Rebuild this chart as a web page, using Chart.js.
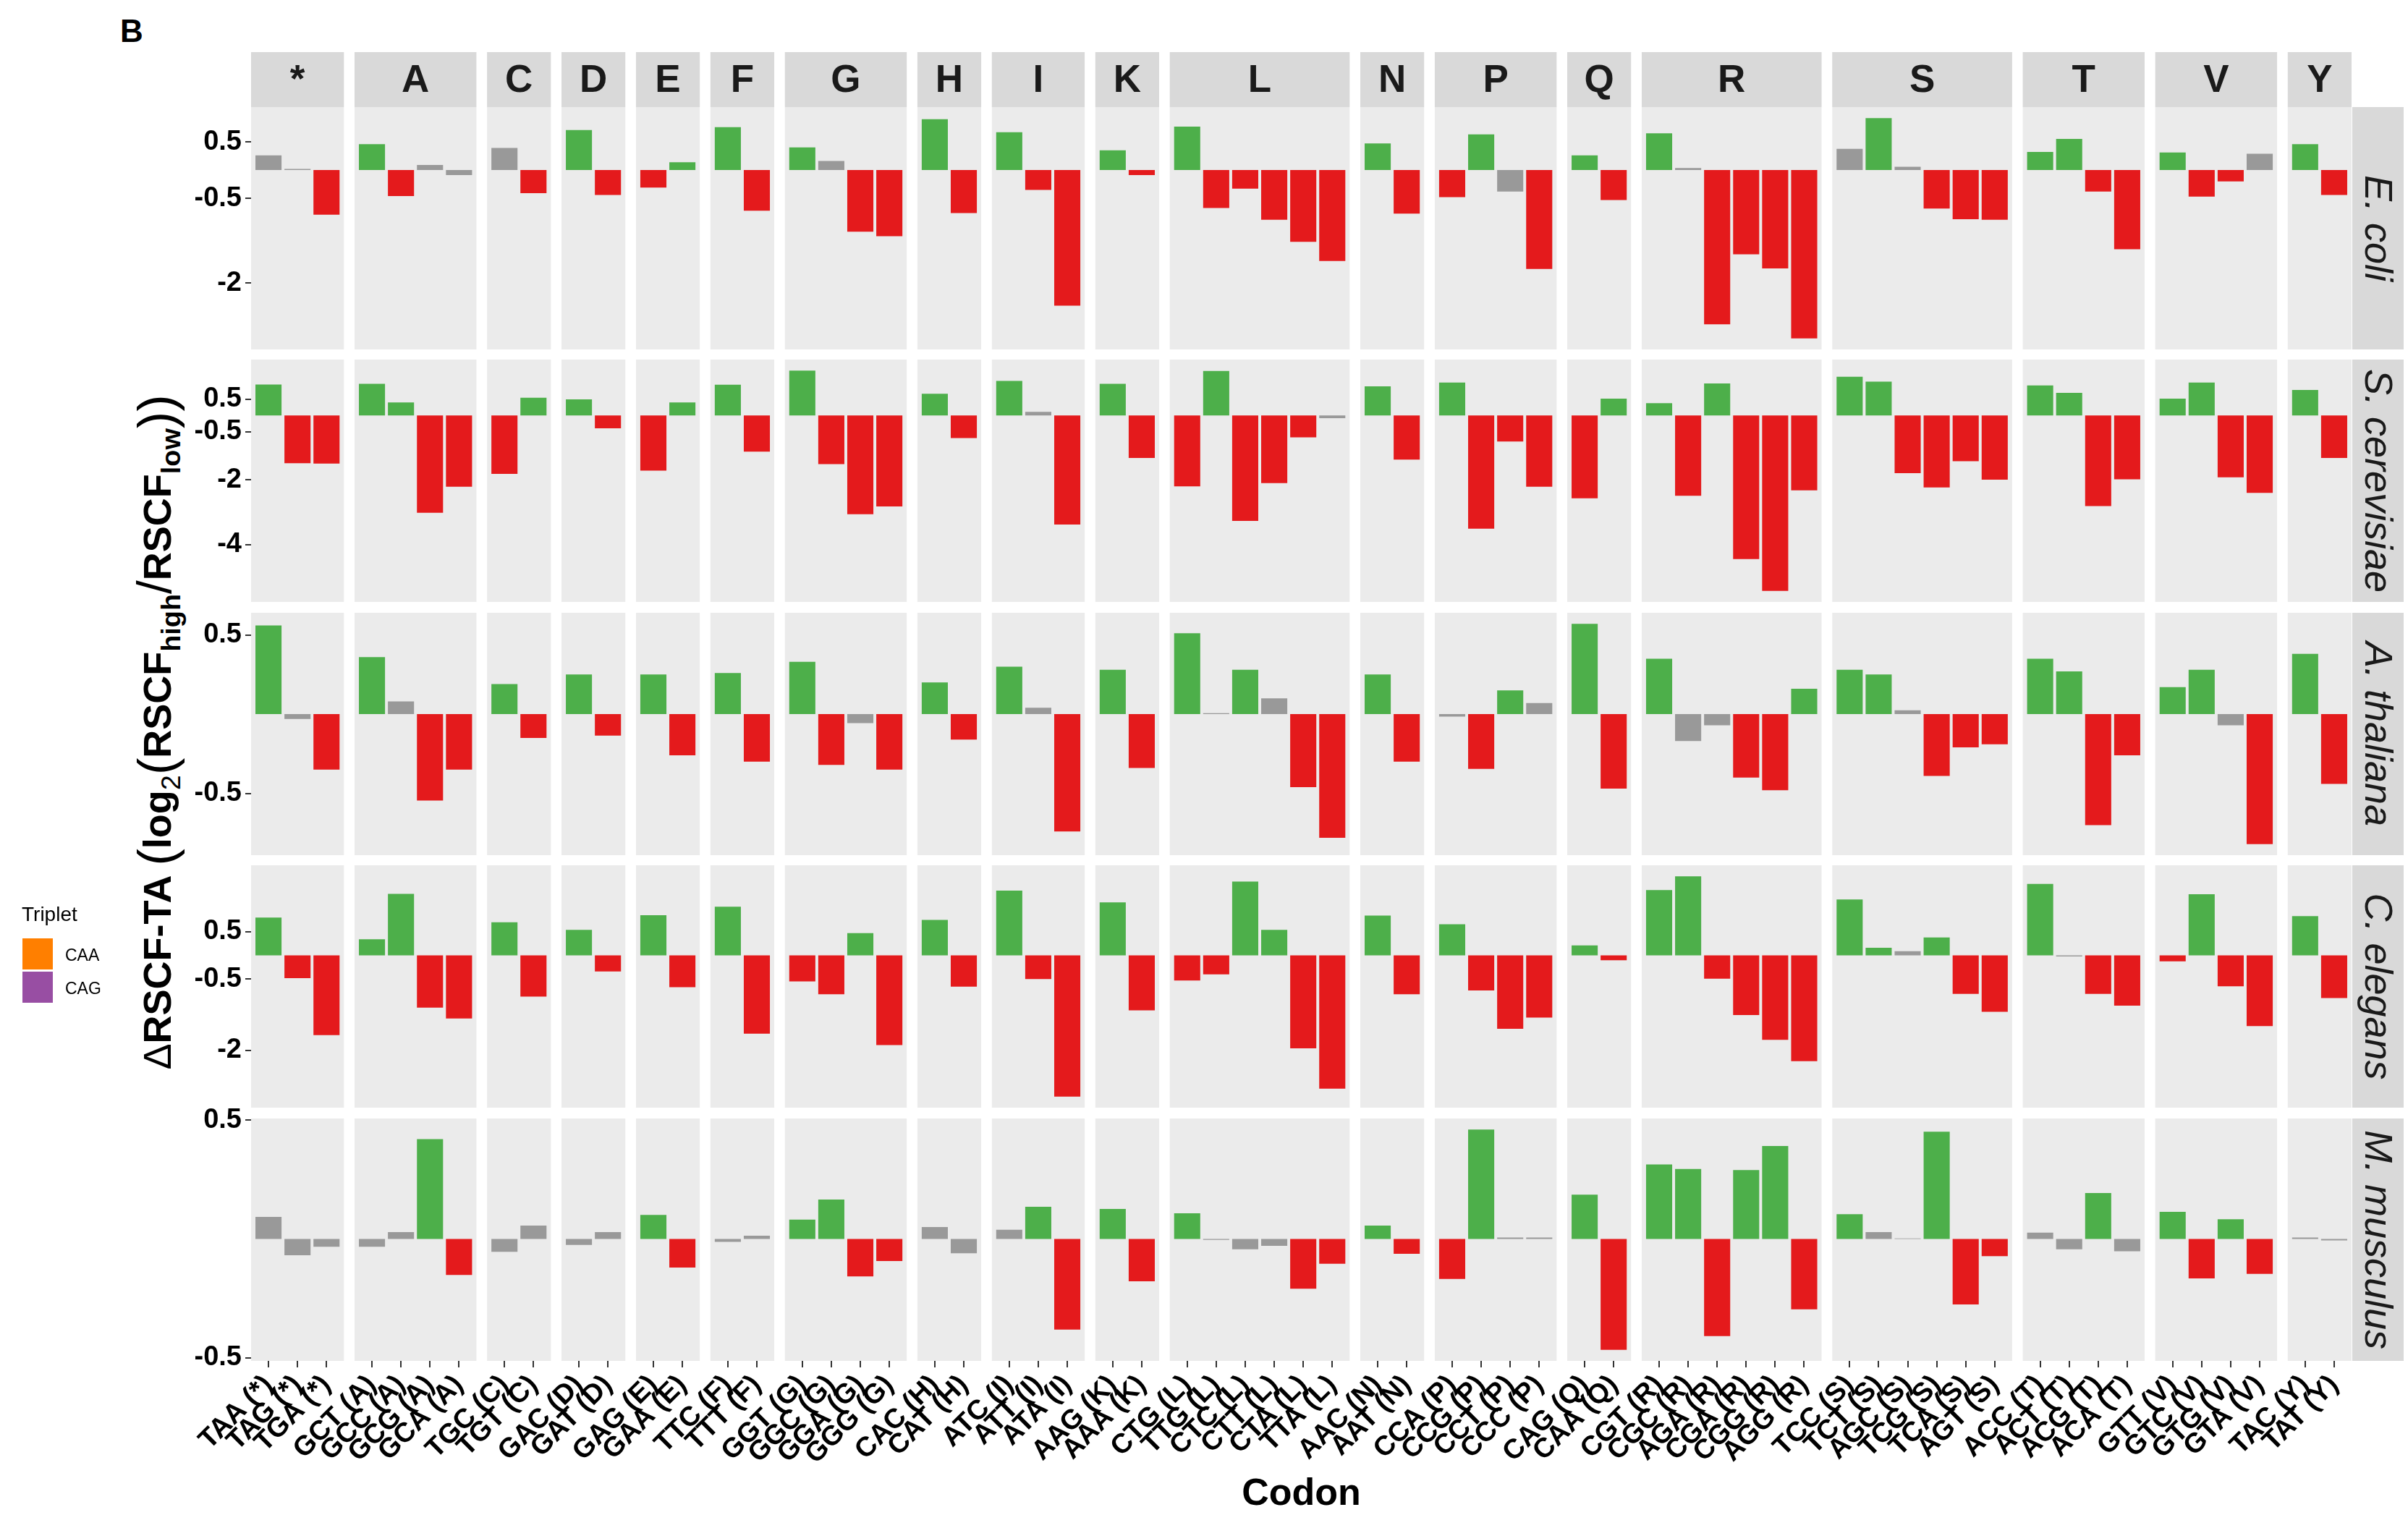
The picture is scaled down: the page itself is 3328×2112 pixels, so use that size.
<!DOCTYPE html>
<html>
<head>
<meta charset="utf-8">
<script src="https://cdn.jsdelivr.net/npm/chart.js@4.4.1/dist/chart.umd.min.js"></script>
<style>
  html, body { margin: 0; padding: 0; background: #ffffff; }
  #fig { position: relative; width: 3328px; height: 2112px; overflow: hidden;
         font-family: "Liberation Sans", Arial, sans-serif; color: #000; }
  #fig canvas { position: absolute; left: 0; }
  #tag { position: absolute; left: 166px; top: 21px; font-size: 44px; font-weight: bold; line-height: 1; }
  #ytitle { position: absolute; left: 212px; top: 1012px; white-space: nowrap;
            transform: translate(-50%, -50%) rotate(-90deg);
            font-size: 54px; font-weight: bold; line-height: 1; }
  #ytitle .d { font-weight: normal; }
  #ytitle .p { font-weight: normal; font-size: 1.3em; position: relative; top: 0.06em; }
  #ytitle .sl { font-weight: normal; font-size: 1.25em; }
  #ytitle .sub { font-size: 0.7em; position: relative; top: 0.35em; }
  #ytitle .sub.n { font-weight: normal; }
  .lg-title { position: absolute; left: 30px; top: 1250px; font-size: 28px; line-height: 1; }
  .lg-key { position: absolute; left: 31px; width: 42px; height: 43px; }
  .lg-label { position: absolute; left: 90px; font-size: 23px; line-height: 1; }
</style>
</head>
<body>
<div id="fig">
  <div id="tag">B</div>
  <div id="ytitle"><span class="d">Δ</span>RSCF-TA <span class="p">(</span>log<span class="sub n">2</span><span class="p">(</span>RSCF<span class="sub">high</span><span class="sl">/</span>RSCF<span class="sub">low</span><span class="p">))</span></div>
</div>
<script>
// ---- data -------------------------------------------------------------
const aminoAcids = ['*','A','C','D','E','F','G','H','I','K','L','N','P','Q','R','S','T','V','Y'];
const codons = [
  ['TAA','TAG','TGA'], ['GCT','GCC','GCG','GCA'], ['TGC','TGT'], ['GAC','GAT'], ['GAG','GAA'],
  ['TTC','TTT'], ['GGT','GGC','GGA','GGG'], ['CAC','CAT'], ['ATC','ATT','ATA'], ['AAG','AAA'],
  ['CTG','TTG','CTC','CTT','CTA','TTA'], ['AAC','AAT'], ['CCA','CCG','CCT','CCC'], ['CAG','CAA'],
  ['CGT','CGC','AGA','CGA','CGG','AGG'], ['TCC','TCT','AGC','TCG','TCA','AGT'],
  ['ACC','ACT','ACG','ACA'], ['GTT','GTC','GTG','GTA'], ['TAC','TAT']
];
const species = ['E. coli', 'S. cerevisiae', 'A. thaliana', 'C. elegans', 'M. musculus'];

// ΔRSCF-TA per codon, in the codon order above
const ecoliValues = [
  0.26, 0.02, -0.79,   0.46, -0.46, 0.09, -0.09,   0.39, -0.41,   0.71, -0.44,   -0.31, 0.14,
  0.76, -0.72,   0.40, 0.16, -1.09, -1.17,   0.90, -0.76,   0.67, -0.35, -2.40,   0.35, -0.09,
  0.77, -0.67, -0.33, -0.88, -1.27, -1.61,   0.47, -0.77,   -0.48, 0.63, -0.38, -1.75,   0.26, -0.53,
  0.65, 0.035, -2.73, -1.49, -1.74, -2.98,   0.375, 0.92, 0.06, -0.68, -0.87, -0.88,
  0.32, 0.55, -0.38, -1.40,   0.31, -0.47, -0.20, 0.29,   0.46, -0.44
];
const scerValues = [
  0.96, -1.48, -1.49,   0.98, 0.40, -3.02, -2.21,   -1.81, 0.55,   0.50, -0.40,   -1.71, 0.40,
  0.95, -1.12,   1.39, -1.51, -3.06, -2.82,   0.67, -0.70,   1.07, 0.11, -3.38,   0.98, -1.32,
  -2.20, 1.38, -3.27, -2.10, -0.68, -0.085,   0.90, -1.37,   1.02, -3.51, -0.81, -2.21,   -2.57, 0.52,
  0.38, -2.49, 0.99, -4.45, -5.44, -2.32,   1.20, 1.05, -1.79, -2.23, -1.42, -1.99,
  0.93, 0.70, -2.81, -1.98,   0.52, 1.02, -1.92, -2.40,   0.79, -1.32
];
const athaValues = [
  0.56, -0.03, -0.35,   0.36, 0.08, -0.545, -0.35,   0.19, -0.15,   0.25, -0.135,   0.25, -0.26,
  0.26, -0.30,   0.33, -0.32, -0.056, -0.35,   0.20, -0.16,   0.30, 0.04, -0.74,   0.28, -0.34,
  0.51, 0.006, 0.28, 0.10, -0.46, -0.78,   0.25, -0.30,   -0.016, -0.345, 0.15, 0.07,   0.57, -0.47,
  0.35, -0.17, -0.07, -0.40, -0.48, 0.16,   0.28, 0.25, 0.025, -0.39, -0.21, -0.19,
  0.35, 0.27, -0.70, -0.26,   0.17, 0.28, -0.07, -0.82,   0.38, -0.44
];
const celeValues = [
  0.80, -0.48, -1.68,   0.34, 1.30, -1.10, -1.33,   0.70, -0.87,   0.54, -0.34,   0.85, -0.67,
  1.03, -1.65,   -0.55, -0.82, 0.47, -1.89,   0.75, -0.66,   1.37, -0.50, -2.98,   1.12, -1.16,
  -0.53, -0.40, 1.56, 0.54, -1.96, -2.81,   0.84, -0.82,   0.66, -0.74, -1.55, -1.31,   0.21, -0.10,
  1.38, 1.67, -0.49, -1.26, -1.78, -2.23,   1.18, 0.16, 0.09, 0.38, -0.81, -1.19,
  1.51, -0.02, -0.81, -1.06,   -0.125, 1.29, -0.65, -1.49,   0.83, -0.90
];
const mmusValues = [
  0.093, -0.068, -0.033,   -0.033, 0.029, 0.42, -0.151,   -0.054, 0.056,   -0.025, 0.029,   0.101, -0.12,
  -0.012, 0.014,   0.081, 0.166, -0.157, -0.093,   0.05, -0.06,   0.039, 0.135, -0.381,   0.126, -0.178,
  0.108, -0.004, -0.043, -0.029, -0.209, -0.104,   0.056, -0.062,   -0.168, 0.46, 0.006, 0.006,   0.186, -0.466,
  0.313, 0.294, -0.408, 0.29, 0.391, -0.296,   0.104, 0.029, 0.002, 0.451, -0.275, -0.072,
  0.027, -0.043, 0.193, -0.052,   0.114, -0.166, 0.083, -0.147,   0.006, -0.006
];

// change call per codon: u = higher, d = lower, n = not significant
const ecoliCalls = 'nnd udnn nd ud du ud undd ud udd ud uddddd ud dund ud undddd nunddd uudd uddn ud';
const scerCalls  = 'udd uudd du ud du ud uddd ud und ud dudddn ud uddd du ududdd uudddd uudd uudd ud';
const athaCalls  = 'und undd ud ud ud ud udnd ud und ud unundd ud ndun ud unnddu uunddd uudd uund ud';
const celeCalls  = 'udd uudd ud ud ud ud ddud ud udd ud dduudd ud uddd ud uudddd uunudd undd dudd ud';
const mmusCalls  = 'nnn nnud nn nn ud nn uudd nn nud ud unnndd ud dunn ud uuduud unnudd nnun udud nn';

// y-axis breaks per species
const ecoliTicks = [0.5, -0.5, -2];
const scerTicks  = [0.5, -0.5, -2, -4];
const athaTicks  = [0.5, -0.5];
const celeTicks  = [0.5, -0.5, -2];
const mmusTicks  = [0.5, -0.5];

const tripletLevels = ['CAA', 'CAG'];

// ---- layout & style ---------------------------------------------------
const FONT = '"Liberation Sans", Arial, sans-serif';
Chart.defaults.font.family = FONT;
const FIG_W = 3328, FIG_H = 2112;
const PLOT_LEFT = 347, PLOT_RIGHT = 3250;
const STRIP_TOP = 72, PANEL_TOP = 148, PANEL_H = 335, ROW_STEP = 349.5;
const X_AXIS_H = 216, RIGHT_STRIP_W = 71, CANVAS_MARGIN = 40;
const EXPAND = 0.6;          // discrete expansion on each side of a facet
const GAP_UNITS = 0.3663;    // spacing between facet columns, in codon units
const CALL_COLORS = { u: '#4DAF4A', d: '#E41A1C', n: '#999999' };
const TRIPLET_COLORS = ['#FF7F00', '#984EA3'];

// codon positions on a continuous x scale: facets laid side by side
const panelStart = [];
let cursor = 0;
codons.forEach(g => { panelStart.push(cursor); cursor += g.length - 1 + 2 * EXPAND + GAP_UNITS; });
const X_MAX = cursor - GAP_UNITS;
const codonPos = [], codonLabels = [];
codons.forEach((g, j) => g.forEach((c, k) => {
  codonPos.push(panelStart[j] + EXPAND + k);
  codonLabels.push(c + ' (' + aminoAcids[j] + ')');
}));

const rows = [
  { values: ecoliValues, calls: ecoliCalls, ticks: ecoliTicks },
  { values: scerValues,  calls: scerCalls,  ticks: scerTicks },
  { values: athaValues,  calls: athaCalls,  ticks: athaTicks },
  { values: celeValues,  calls: celeCalls,  ticks: celeTicks },
  { values: mmusValues,  calls: mmusCalls,  ticks: mmusTicks }
];

// grey panel backgrounds, column strips (first row) and species strip (right)
const facetPlugin = {
  id: 'facets',
  beforeDatasetsDraw(chart, args, opts) {
    const { ctx, chartArea, scales: { x } } = chart;
    ctx.save();
    ctx.fillStyle = '#EBEBEB';
    codons.forEach((g, j) => {
      const l = x.getPixelForValue(panelStart[j]);
      const r = x.getPixelForValue(panelStart[j] + g.length - 1 + 2 * EXPAND);
      ctx.fillRect(l, chartArea.top, r - l, chartArea.bottom - chartArea.top);
    });
    ctx.restore();
  },
  afterDraw(chart, args, opts) {
    const { ctx, chartArea, scales: { x } } = chart;
    ctx.save();
    if (opts.topStrip) {
      const top = chartArea.top - (PANEL_TOP - STRIP_TOP);
      codons.forEach((g, j) => {
        const l = x.getPixelForValue(panelStart[j]);
        const r = x.getPixelForValue(panelStart[j] + g.length - 1 + 2 * EXPAND);
        ctx.fillStyle = '#D9D9D9';
        ctx.fillRect(l, top, r - l, chartArea.top - top);
        ctx.fillStyle = '#1A1A1A';
        ctx.font = 'bold 53px ' + FONT;
        ctx.textAlign = 'center';
        ctx.textBaseline = 'middle';
        ctx.fillText(aminoAcids[j], (l + r) / 2, (top + chartArea.top) / 2 + 2);
      });
    }
    const sl = chartArea.right + 1;
    ctx.fillStyle = '#D9D9D9';
    ctx.fillRect(sl, chartArea.top, RIGHT_STRIP_W, chartArea.bottom - chartArea.top);
    ctx.translate(sl + RIGHT_STRIP_W / 2, (chartArea.top + chartArea.bottom) / 2);
    ctx.rotate(Math.PI / 2);
    ctx.fillStyle = '#1A1A1A';
    ctx.font = 'italic 54px ' + FONT;
    ctx.textAlign = 'center';
    ctx.textBaseline = 'middle';
    ctx.fillText(opts.label, 0, 2);
    ctx.restore();
  }
};

const fig = document.getElementById('fig');

rows.forEach((row, i) => {
  const isFirst = i === 0, isLast = i === rows.length - 1;
  const panelTop = Math.floor(PANEL_TOP + i * ROW_STEP);
  const panelBottom = panelTop + PANEL_H;
  const canvasTop = isFirst ? 0 : panelTop - CANVAS_MARGIN;
  const canvasBottom = isLast ? FIG_H : panelBottom + CANVAS_MARGIN;
  const padBottom = isLast ? FIG_H - panelBottom - X_AXIS_H : CANVAS_MARGIN;

  const canvas = document.createElement('canvas');
  canvas.width = FIG_W;
  canvas.height = canvasBottom - canvasTop;
  canvas.style.top = canvasTop + 'px';
  fig.appendChild(canvas);

  const calls = row.calls.replace(/\s+/g, '').split('');
  const lo = Math.min(0, ...row.values), hi = Math.max(0, ...row.values);
  const pad = 0.05 * (hi - lo);

  new Chart(canvas, {
    type: 'bar',
    data: {
      datasets: [{
        data: row.values.map((v, k) => ({ x: codonPos[k], y: v })),
        backgroundColor: calls.map(c => CALL_COLORS[c]),
        borderWidth: 0,
        barPercentage: 0.9,
        categoryPercentage: 1.0
      }]
    },
    options: {
      responsive: false,
      animation: false,
      devicePixelRatio: 1,
      layout: { padding: { left: 0, right: FIG_W - PLOT_RIGHT, top: panelTop - canvasTop, bottom: padBottom } },
      plugins: {
        legend: { display: false },
        tooltip: { enabled: false },
        facets: { topStrip: isFirst, label: species[i] }
      },
      scales: {
        x: {
          type: 'linear',
          min: 0, max: X_MAX,
          offset: false,
          display: isLast,
          grid: { display: true, drawOnChartArea: false, offset: false, drawTicks: true,
                  tickLength: 9, color: '#333333', lineWidth: 2 },
          border: { display: false },
          afterBuildTicks: s => { s.ticks = codonPos.map(v => ({ value: v })); },
          afterFit: s => { s.height = isLast ? X_AXIS_H : 0; },
          ticks: {
            autoSkip: false, minRotation: 45, maxRotation: 45, padding: 2,
            color: '#000000', font: { size: 38, weight: 'bold' },
            callback: (v, idx) => codonLabels[idx]
          },
          title: { display: isLast, text: 'Codon', color: '#000000',
                   font: { size: 52, weight: 'bold' }, padding: { top: 0, bottom: 0 } }
        },
        y: {
          type: 'linear',
          min: lo - pad, max: hi + pad,
          grid: { display: true, drawOnChartArea: false, drawTicks: true,
                  tickLength: 8, color: '#333333', lineWidth: 2 },
          border: { display: false },
          afterBuildTicks: s => { s.ticks = row.ticks.map(v => ({ value: v })); },
          afterFit: s => { s.width = PLOT_LEFT; },
          ticks: { padding: 5, color: '#000000', font: { size: 38, weight: 'bold' },
                   callback: v => String(v) }
        }
      }
    },
    plugins: [facetPlugin]
  });
});

// legend for the Triplet fill
const lgTitle = document.createElement('div');
lgTitle.className = 'lg-title';
lgTitle.textContent = 'Triplet';
fig.appendChild(lgTitle);
tripletLevels.forEach((lev, k) => {
  const key = document.createElement('div');
  key.className = 'lg-key';
  key.style.top = (1297 + k * 46) + 'px';
  key.style.background = TRIPLET_COLORS[k];
  fig.appendChild(key);
  const lab = document.createElement('div');
  lab.className = 'lg-label';
  lab.style.top = (1309 + k * 46) + 'px';
  lab.textContent = lev;
  fig.appendChild(lab);
});
</script>
</body>
</html>
